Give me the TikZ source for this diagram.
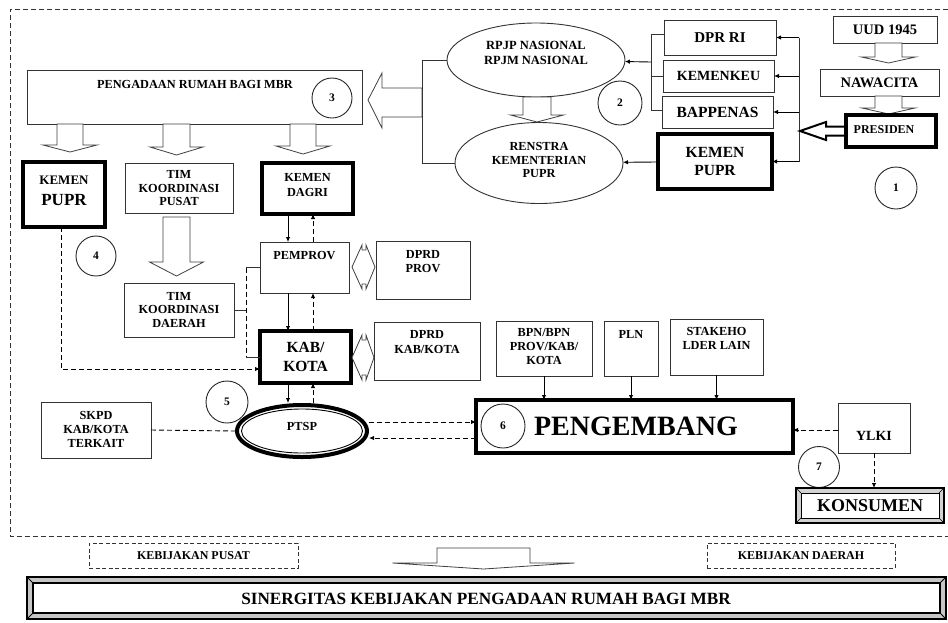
\documentclass[tikz,border=0pt]{standalone}
\usepackage{fontspec}
\setmainfont{Liberation Serif}
\usetikzlibrary{arrows.meta,calc,shapes.geometric}
\newcommand{\fsz}[2]{\fontsize{#1}{#2}\selectfont}
\newcommand{\hdown}[6]{\draw[harrow] (#1-#5,#2) -- (#1-#5,#3) -- (#1-#6,#3) -- (#1,#4) -- (#1+#6,#3) -- (#1+#5,#3) -- (#1+#5,#2) -- cycle;}
\newcommand{\mkbox}[6]{\node[#2, minimum width=#5pt-#3pt, minimum height=#6pt-#4pt] (#1) at (#3,#4) {};}
\begin{document}
\begin{tikzpicture}[x=1pt,y=-1pt,
  thinbox/.style={draw=black!80, line width=0.9pt, fill=white, inner sep=0pt, outer sep=0pt, anchor=north west},
  thickbox/.style={draw=black, line width=3.5pt, fill=white, inner sep=0pt, outer sep=0pt, anchor=north west},
  dbox/.style={draw=black!80, line width=0.8pt, dash pattern=on 4pt off 2.5pt, inner sep=0pt, outer sep=0pt, anchor=north west},
  ell/.style={ellipse, draw=black!80, line width=0.9pt, fill=white, inner sep=0pt, outer sep=0pt},
  txt/.style 2 args={inner sep=0pt, align=center, font=\bfseries\fsz{#1}{#2}},
  num/.style={draw=black!85, line width=0.9pt, circle, minimum size=40pt, inner sep=0pt, font=\bfseries\fsz{11.5}{13}},
  harrow/.style={draw=black!75, line width=0.8pt, fill=white, line join=miter},
  lin/.style={draw=black!80, line width=0.9pt},
  arr/.style={-{Latex[length=5pt,width=4.5pt]}, line width=0.9pt},
  darr/.style={arr, dash pattern=on 5pt off 3pt},
  dline/.style={line width=0.9pt, dash pattern=on 5pt off 3pt},
]
\useasboundingbox (0,0) rectangle (948,622);
\fill[white] (0,0) rectangle (948,622);

% outer dashed frame
\draw[dline, line width=0.8pt, draw=black!80] (948,9) -- (10,9) -- (10,536) -- (948,536);

% ---------- top left ----------
\mkbox{peng0}{thinbox}{27}{70}{362}{124}
\node[txt={12.3}{14}] (peng0t) at (195,84) {PENGADAAN RUMAH BAGI MBR};
\node[num] (n3) at (332,98) {3};

\draw[harrow] (368,100) -- (382,73) -- (382,88) -- (422,88) -- (422,117) -- (382,117) -- (382,128) -- cycle;

\hdown{70}{124}{145}{152}{13}{27}
\hdown{176.5}{124}{147}{155}{13.5}{26.5}
\hdown{303}{124}{146}{154}{13}{27}

\mkbox{kp1}{thickbox}{23}{162}{105}{227}
\node[txt={13}{14}] (kp1a) at (64,180) {KEMEN};
\node[txt={17}{18}] (kp1b) at (64,200) {PUPR};

\mkbox{timp}{thinbox}{125}{163}{233}{213}
\node[txt={12.3}{13.5}] (timpt) at (179,188.5) {TIM\\KOORDINASI\\PUSAT};

\mkbox{dagri}{thickbox}{262}{163}{353}{214}
\node[txt={12.3}{15.5}] (dagrit) at (307.5,185) {KEMEN\\DAGRI};

\hdown{176.5}{217}{262}{276}{13.5}{27}

\mkbox{timd}{thinbox}{124}{283}{234}{337}
\node[txt={12.3}{13.5}] (timdt) at (179,309.5) {TIM\\KOORDINASI\\DAERAH};
\node[num] (n4) at (96,256) {4};

\mkbox{pemprov}{thinbox}{260}{242}{349}{293}
\node[txt={12.3}{13}] (pemprovt) at (304.5,256) {PEMPROV};
\mkbox{dprdp}{thinbox}{376}{241}{470}{299}
\node[txt={12.3}{13.5}] (dprdpt) at (423,261.5) {DPRD\\PROV};
\draw[harrow] (352,267) -- (362,245) -- (362,250) -- (366,250) -- (366,245) -- (375,267) -- (366,289) -- (366,284) -- (362,284) -- (362,289) -- cycle;

\mkbox{kab}{thickbox}{260}{331}{351}{383}
\node[txt={15.5}{19}] (kabt) at (305.5,356.5) {KAB/\\KOTA};
\mkbox{dprdk}{thinbox}{374}{322}{480}{380}
\node[txt={12.3}{15}] (dprdkt) at (427,342.5) {DPRD\\KAB/KOTA};
\draw[harrow] (352,357.5) -- (362,335) -- (362,340) -- (366,340) -- (366,335) -- (374,357.5) -- (366,380) -- (366,375) -- (362,375) -- (362,380) -- cycle;

% PTSP
\node[num, minimum size=42pt] (n5) at (227,402) {5};
\node[ellipse, draw=black, line width=4pt, fill=white, minimum width=130pt, minimum height=52pt, inner sep=0pt, outer sep=2pt] (ptsp) at (302,431) {};
\node[ellipse, draw=black, line width=0.9pt, minimum width=121pt, minimum height=44pt, inner sep=0pt] (ptspin) at (ptsp.center) {};
\node[txt={12.3}{13}] (ptspt) at (302,426) {PTSP};

\mkbox{skpd}{thinbox}{41}{402}{151}{458}
\node[txt={12.3}{14}] (skpdt) at (96,429) {SKPD\\KAB/KOTA\\TERKAIT};

% vertical connectors
\draw[arr] (288,0 |- dagri.south) -- (288,0 |- pemprov.north);
\draw[darr] (313,0 |- pemprov.north) -- (313,0 |- dagri.south);
\draw[arr] (288,0 |- pemprov.south) -- (288,0 |- kab.north);
\draw[darr] (313,0 |- kab.north) -- (313,0 |- pemprov.south);
\draw[arr] (288,0 |- kab.south) -- (288,0 |- ptsp.north);
\draw[darr] (313,0 |- ptsp.north) -- (313,0 |- kab.south);

% TIM DAERAH bracket
\coordinate (b1) at (246,0 |- pemprov.west);
\coordinate (b2) at (246,0 |- kab.west);
\draw[lin] (pemprov.west) -- (b1);
\draw[lin] (b2) -- (kab.west);
\draw[lin] (timd.east) -- (246,0 |- timd.east);
\draw[dline] (b1) -- (b2);

% KEMEN PUPR dashed to KAB
\coordinate (kc) at (61,369);
\draw[darr] (61,0 |- kp1.south) -- (kc) -- (kc -| kab.west);

\draw[dline] (skpd.east) -- (ptsp.west);

% ---------- top right ----------
\node[ell, minimum width=178pt, minimum height=74pt] (rpjp) at (536,60) {};
\node[txt={12.5}{15}] (rpjpt) at (536,52.5) {RPJP NASIONAL\\RPJM NASIONAL};
\node[ell, minimum width=168pt, minimum height=81pt] (renstra) at (539,163) {};
\node[txt={12.3}{13.5}] (renstrat) at (539,160) {RENSTRA\\KEMENTERIAN\\PUPR};
\draw[lin] (rpjp.west) -- (422,0 |- rpjp.west) -- (422,0 |- renstra.west) -- (renstra.west);
\hdown{537}{97}{115}{122}{14}{26.5}
\node[num, minimum size=44pt] (n2) at (620,103) {2};

\mkbox{dpr}{thinbox}{664}{20}{776}{55}
\node[txt={15}{17}] (dprt) at (720,37.5) {DPR RI};
\mkbox{keu}{thinbox}{663}{60}{774}{92}
\node[txt={14}{16}] (keut) at (718.5,76) {KEMENKEU};
\mkbox{bap}{thinbox}{662}{96}{773}{128}
\node[txt={15.5}{17}] (bapt) at (717.5,112) {BAPPENAS};
\mkbox{kp2}{thickbox}{658}{134}{772}{189}
\node[txt={15.5}{18}] (kp2t) at (715,161) {KEMEN\\PUPR};

\coordinate (lb1) at (651,34);
\coordinate (lb2) at (651,110);
\draw[lin] (lb1 -| dpr.west) -- (lb1) -- (lb2) -- (lb2 -| bap.west);
\draw[lin] (651,0 |- keu.west) -- (keu.west);
\coordinate (lb3) at (651,62);
\draw[arr] (lb3) -- (rpjp);
\draw[arr] (kp2) -- (renstra);

\coordinate (rv) at (799,0);
\draw[lin] (rv |- dpr.east) -- (rv |- kp2.east);
\draw[arr] (rv |- dpr.east) -- (dpr.east);
\draw[arr] (rv |- keu.east) -- (keu.east);
\draw[arr] (rv |- bap.east) -- (bap.east);
\draw[arr] (rv |- kp2.east) -- (kp2.east);

\mkbox{uud}{thinbox}{833}{16}{937}{43}
\node[txt={14.5}{16}] (uudt) at (885,29.5) {UUD 1945};
\hdown{888.5}{43}{57}{63}{13.5}{27}
\mkbox{nawa}{thinbox}{820}{69}{939}{96}
\node[txt={14.5}{16}] (nawat) at (879.5,82.5) {NAWACITA};
\hdown{888.5}{96}{108}{114}{13.5}{26.5}
\draw[harrow, line width=2pt, draw=black] (800,131) -- (826,122) -- (826,126.5) -- (846,126.5) -- (846,135.5) -- (826,135.5) -- (826,140) -- cycle;
\mkbox{pres}{thickbox}{846}{115}{936}{147}
\node[txt={12}{13}] (prest) at (884,130) {PRESIDEN};
\node[num, minimum size=42pt] (n1) at (896,188) {1};

% ---------- middle right ----------
\mkbox{bpn}{thinbox}{496}{321}{592}{376}
\node[txt={12.3}{14}] (bpnt) at (544,347) {BPN/BPN\\PROV/KAB/\\KOTA};
\mkbox{pln}{thinbox}{604}{321}{658}{376}
\node[txt={12.3}{13}] (plnt) at (631,334) {PLN};
\mkbox{stk}{thinbox}{670}{319}{763}{375}
\node[txt={12.3}{13.5}] (stkt) at (716.5,338.5) {STAKEHO\\LDER LAIN};

\node[draw=black, line width=4pt, fill=white, inner sep=0pt, outer sep=0pt, anchor=north west, minimum width=317pt, minimum height=53pt] (peng) at (476,400) {};
\node[txt={28}{30}] (pengt) at (636,426.5) {PENGEMBANG};
\node[num, minimum size=44pt] (n6) at (503,426) {6};

\draw[arr] (bpn.south) -- (bpn.south |- peng.north);
\draw[arr] (pln.south) -- (pln.south |- peng.north);
\draw[arr] (stk.south) -- (stk.south |- peng.north);

\draw[darr] (ptsp.east |- 0,422) -- (peng.west |- 0,422);
\draw[darr] (peng.west |- 0,438) -- (ptsp.east |- 0,438);

\mkbox{ylki}{thinbox}{838}{403}{910}{453}
\node[txt={14}{16}] (ylkit) at (874,436) {YLKI};
\draw[darr] (ylki.west |- 0,430) -- (peng.east |- 0,430);
\node[num, minimum size=41pt] (n7) at (819,467) {7};

\node[draw=black, line width=1.2pt, fill=gray!35, minimum width=148pt, minimum height=35pt, anchor=north west, inner sep=0pt, outer sep=0pt] (kons) at (796,488) {};
\node[draw=black, line width=0.8pt, fill=white, minimum width=138pt, minimum height=25pt, inner sep=0pt, outer sep=0pt] (konsin) at (kons.center) {};
\draw[line width=0.6pt] (kons.north west) -- (konsin.north west) (kons.north east) -- (konsin.north east) (kons.south west) -- (konsin.south west) (kons.south east) -- (konsin.south east);
\node[txt={18}{20}] (konst) at (870,506) {KONSUMEN};
\draw[darr] (ylki.south) -- (ylki.south |- kons.north);

% ---------- bottom ----------
\mkbox{kpus}{dbox}{89}{543}{298}{568}
\node[txt={12}{13}] (kpust) at (193.5,555.5) {KEBIJAKAN PUSAT};
\mkbox{kdae}{dbox}{707}{543}{895}{568}
\node[txt={12}{13}] (kdaet) at (801,555.5) {KEBIJAKAN DAERAH};
\hdown{483.5}{548}{563}{569}{46.5}{91}

\node[draw=black, line width=2.5pt, fill=gray!45, minimum width=919pt, minimum height=42pt, anchor=north west, inner sep=0pt, outer sep=0pt] (sin) at (27,577) {};
\node[draw=black, line width=1.5pt, fill=white, minimum width=907pt, minimum height=30pt, inner sep=0pt, outer sep=0pt] (sinin) at (sin.center) {};
\draw[line width=0.8pt] (sin.north west) -- (sinin.north west) (sin.north east) -- (sinin.north east) (sin.south west) -- (sinin.south west) (sin.south east) -- (sinin.south east);
\node[txt={17.2}{18}] (sint) at (486,598.5) {SINERGITAS KEBIJAKAN PENGADAAN RUMAH BAGI MBR};
\end{tikzpicture}
\end{document}
